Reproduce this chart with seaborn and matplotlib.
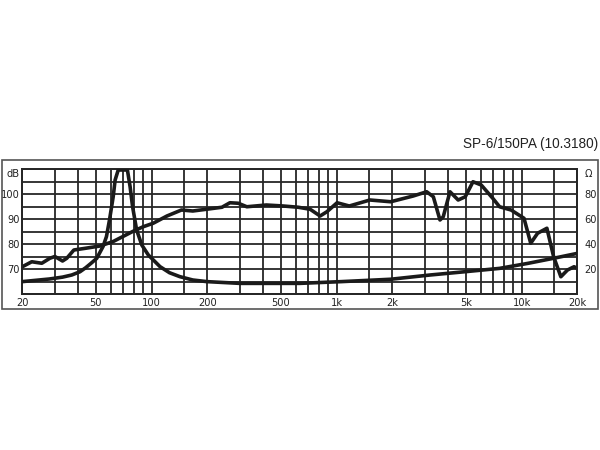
import matplotlib
matplotlib.use("Agg")
import matplotlib.pyplot as plt
import seaborn as sns
import pandas as pd
from matplotlib.patches import Rectangle
from matplotlib.ticker import FixedLocator, NullFormatter, FixedFormatter

# ---------------- data ----------------
title = "SP-6/150PA (10.3180)"

spl_freq = [20, 22.5, 25.5, 28.2, 30, 33, 34.8, 38, 44, 52.6, 62, 79, 90, 102, 121,
            145, 167, 198, 240, 265, 294, 327, 417, 515, 620, 719, 814, 886, 1006,
            1171, 1514, 1960, 2595, 3067, 3333, 3620, 3770, 4100, 4540, 4960, 5460,
            6050, 6980, 7600, 8770, 10300, 11200, 12200, 13700, 14900, 16300, 17700,
            19200, 20000]
spl_db = [70.9, 72.9, 72.3, 74.3, 75.0, 73.2, 74.3, 77.6, 78.3, 79.2, 81.0, 85.0, 86.9,
          88.3, 91.2, 93.6, 93.2, 93.9, 94.7, 96.5, 96.3, 94.9, 95.6, 95.2, 94.7, 93.9,
          91.2, 92.9, 96.5, 95.2, 97.6, 96.9, 99.2, 100.9, 98.9, 89.6, 90.9, 100.9, 97.6,
          98.9, 104.9, 103.6, 98.3, 94.9, 93.6, 90.3, 80.3, 84.3, 86.3, 74.9, 66.9, 69.6,
          70.9, 70.3]

imp_freq = [20, 28, 33, 37, 41, 44, 47, 50.5, 54.6, 57, 59.2, 62, 63.5, 66, 74, 76.5,
            78.9, 83, 88.5, 96, 111, 125, 142, 167, 199, 300, 510, 632, 1060, 1960,
            3200, 5000, 7600, 10800, 14800, 20000]
imp_ohm = [9.9, 12.0, 13.5, 15.2, 17.8, 21.0, 24.5, 28.5, 37.9, 45.9, 59.2, 77.9, 91.2,
           99.2, 99.2, 85.9, 69.9, 51.2, 39.2, 31.2, 21.9, 17.0, 13.9, 11.2, 9.9, 8.5,
           8.5, 8.5, 9.9, 11.8, 15.2, 17.9, 20.5, 24.5, 28.5, 32.5]

x_major = [20, 50, 100, 200, 500, 1000, 2000, 5000, 10000, 20000]
x_labels = ["20", "50", "100", "200", "500", "1k", "2k", "5k", "10k", "20k"]
x_minor = [30, 40, 60, 70, 80, 90, 150, 300, 400, 600, 700, 800, 900, 1500,
           3000, 4000, 6000, 7000, 8000, 9000, 15000]

db_grid = [60, 65, 70, 75, 80, 85, 90, 95, 100, 105, 110]
db_ticks = [70, 80, 90, 100, 110]
db_labels = ["70", "80", "90", "100", "dB"]
ohm_ticks = [20, 40, 60, 80, 100]
ohm_labels = ["20", "40", "60", "80", "Ω"]

# ---------------- figure ----------------
sns.set_style("white")
plt.rcParams["font.family"] = ["DejaVu Sans"]

W, H = 600, 450
fig = plt.figure(figsize=(6, 4.5), dpi=100)
fig.patch.set_facecolor("white")

x0, x1, ytop, ybot = 22.3, 577.3, 169, 294
ax = fig.add_axes([x0 / W, 1 - ybot / H, (x1 - x0) / W, (ybot - ytop) / H])

ink = "#1a1a1a"
grid_c = "#262626"

ax.set_xscale("log")
ax.set_xlim(20, 20000)
ax.set_ylim(60, 110)

sns.lineplot(data=pd.DataFrame({"f": spl_freq, "db": spl_db}), x="f", y="db", ax=ax,
             color=ink, linewidth=2.6, solid_joinstyle="round",
             solid_capstyle="round", zorder=3)

ax2 = ax.twinx()
ax2.set_ylim(0, 100)
sns.lineplot(data=pd.DataFrame({"f": imp_freq, "ohm": imp_ohm}), x="f", y="ohm",
             ax=ax2, color=ink, linewidth=2.6, solid_joinstyle="round",
             solid_capstyle="round", zorder=3)
ax2.set_xscale("log")
ax2.set_xlim(20, 20000)

# grid
ax.xaxis.set_major_locator(FixedLocator(x_major))
ax.xaxis.set_major_formatter(FixedFormatter(x_labels))
ax.xaxis.set_minor_locator(FixedLocator(x_minor))
ax.xaxis.set_minor_formatter(NullFormatter())
ax.yaxis.set_major_locator(FixedLocator(db_ticks))
ax.yaxis.set_major_formatter(FixedFormatter(db_labels))
ax.yaxis.set_minor_locator(FixedLocator(db_grid))
ax.grid(True, which="both", axis="both", color=grid_c, linewidth=1.3)
ax.set_axisbelow(True)

ax2.yaxis.set_major_locator(FixedLocator(ohm_ticks))
ax2.yaxis.set_major_formatter(FixedFormatter(ohm_labels))
ax2.grid(False)

ax.tick_params(axis="both", which="both", length=0, labelsize=7.1, colors="#222222")
ax.tick_params(axis="x", pad=3)
ax.tick_params(axis="y", pad=2)
ax2.tick_params(axis="y", which="both", length=0, labelsize=7.1, colors="#222222", pad=5)
ax2.tick_params(axis="x", which="both", length=0)

for lab in ax.get_yticklabels():
    if lab.get_text() == "dB":
        lab.set_verticalalignment("top")
for lab in ax2.get_yticklabels():
    if lab.get_text() == "Ω":
        lab.set_verticalalignment("top")

for a in (ax, ax2):
    a.set_xlabel("")
    a.set_ylabel("")
    for s in a.spines.values():
        s.set_color(grid_c)
        s.set_linewidth(1.3)

# outer frame
fig.add_artist(Rectangle((1.5 / W, 1 - 309 / H), 596.5 / W, 149 / H,
                         transform=fig.transFigure, fill=False,
                         edgecolor="#555555", linewidth=1.2))

fig.text(598 / W, 1 - 144 / H, title, ha="right", va="center", fontsize=9.8,
         family=["Liberation Sans", "DejaVu Sans"], color="#222222")

fig.savefig("out.png", dpi=100, facecolor="white")
